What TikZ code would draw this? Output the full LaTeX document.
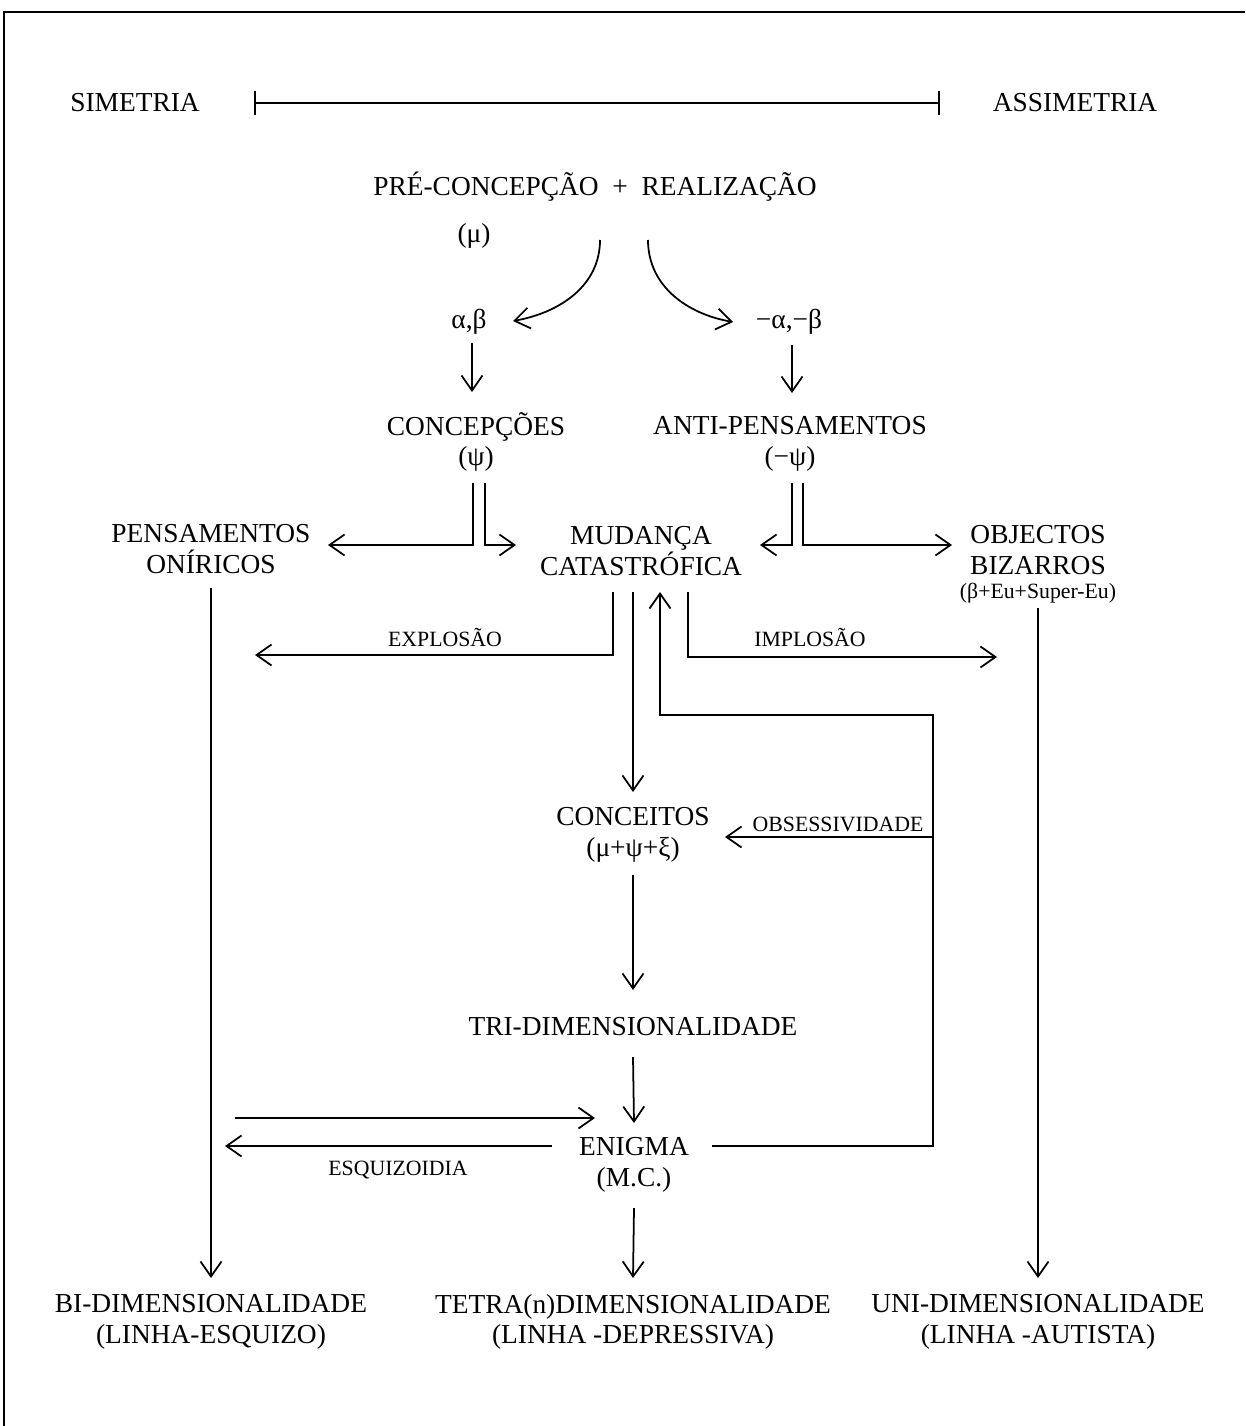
\documentclass[tikz,border=0pt]{standalone}
\usepackage{fontspec}
\setmainfont{Liberation Serif}
\usepackage{tikz}
\usetikzlibrary{arrows.meta}
\usetikzlibrary{calc}

\tikzset{
  texto/.style={font=\fontsize{15.6}{17.4}\selectfont, align=center, inner sep=1pt},
  rotulo/.style={font=\fontsize{12.4}{14}\selectfont, inner sep=1pt},
  seta/.style={-{Straight Barb[length=3mm,width=4.2mm]}},
}

\begin{document}
\begin{tikzpicture}[x=0.02cm, y=-0.02cm, line width=1pt]
        \useasboundingbox (0,0) rectangle (1245,1426);
        \draw[line width=1.4pt] (4,1426) -- (4,12) -- (1245,12);

        % escala
        \node[texto] (sim) at (135,103) {SIMETRIA};
        \node[texto] (assim) at (1075,103) {ASSIMETRIA};
        \draw[{Bar[width=5mm]}-{Bar[width=5mm]}] ($(sim)+(119,0)$) --
        ($(assim)+(-135,0)$);

        \node[texto] (pre) at (595,187) {PRÉ-CONCEPÇÃO\enspace+\enspace REALIZAÇÃO};
        \node[texto] (mu) at (474,236) {(μ)};

        \node[texto] (ab) at (469,322) {α,β};
        \node[texto] (nab) at (789,322) {−α,−β};
        \draw[seta] ($(pre)+(5,53)$) to[out=-90,in=10] ($(ab)+(44,-1)$);
        \draw[seta] ($(pre)+(53,53)$) to[out=-90,in=170] ($(nab)+(-56,0)$);

        \node[texto] (conc) at (476,442) {CONCEPÇÕES\\(ψ)};
        \node[texto] (anti) at (790,444) {ANTI-PENSAMENTOS\\(−ψ)};
        \draw[seta] ($(ab)+(3,21)$) -- ($(conc)+(-4,-50)$);
        \draw[seta] ($(nab)+(3,23)$) -- ($(anti)+(2,-51)$);

        \node[texto] (pens) at (211,549) {PENSAMENTOS\\ONÍRICOS};
        \node[texto] (mud) at (641,551) {MUDANÇA\\CATASTRÓFICA};
        \node[texto] (obj) at (1038,550) {OBJECTOS\\BIZARROS};
        \node[rotulo] (objsub) at (1038,593) {(β+Eu+Super-Eu)};

        \draw[seta] ($(conc)+(-3,41)$) |- ($(pens)+(117,-4)$);
        \draw[seta] ($(conc)+(9,41)$) |- ($(mud)+(-125,-6)$);
        \draw[seta] ($(anti)+(2,39)$) |- ($(mud)+(119,-6)$);
        \draw[seta] ($(anti)+(13,39)$) |- ($(obj)+(-86,-5)$);

        % explosao / implosao
        \node[rotulo] (explo) at (445,637) {EXPLOSÃO};
        \node[rotulo] (implo) at (810,637) {IMPLOSÃO};
        \draw[seta] ($(mud)+(-28,41)$) |- ($(pens)+(44,106)$);
        \draw[seta] ($(mud)+(47,41)$) |- ($(obj)+(-41,107)$);

        \node[texto] (conce) at (633,835) {CONCEITOS\\(μ+ψ+ξ)};
        \draw[seta] ($(mud)+(-8,41)$) -- ($(conce)+(0,-43)$);

        \node[texto] (tri) at (633,1027) {TRI-DIMENSIONALIDADE};
        \node[texto] (enig) at (634,1165) {ENIGMA\\(M.C.)};
        \draw[seta] ($(conce)+(0,40)$) -- ($(tri)+(0,-37)$);
        \draw[seta] ($(tri)+(0,30)$) -- ($(enig)+(0,-42)$);

        % retorno para a mudanca catastrofica
        \coordinate (volta) at (933,715);
        \draw[seta] ($(enig)+(78,-19)$) -| (volta) -| ($(mud)+(19,41)$);
        \node[rotulo] (obses) at (838,824) {OBSESSIVIDADE};
        \draw[seta] ($(volta)+(0,122)$) -- ($(conce)+(92,2)$);

        \node[texto] (bi) at (211,1322) {BI-DIMENSIONALIDADE\\(LINHA-ESQUIZO)};
        \node[texto] (tetra) at (633,1322) {TETRA(n)DIMENSIONALIDADE\\(LINHA -DEPRESSIVA)};
        \node[texto] (uni) at (1038,1322) {UNI-DIMENSIONALIDADE\\(LINHA -AUTISTA)};

        \draw[seta] ($(pens)+(0,39)$) -- ($(bi)+(0,-44)$);
        \draw[seta] ($(objsub)+(0,15)$) -- ($(uni)+(0,-44)$);
        \draw[seta] ($(enig)+(0,43)$) -- ($(tetra)+(0,-44)$);

        % esquizoidia
        \node[rotulo] (esq) at (398,1170) {ESQUIZOIDIA};
        \draw[seta] ($(pens)+(24,569)$) -- ($(enig)+(-39,-47)$);
        \draw[seta] ($(enig)+(-82,-19)$) -- ($(bi)+(14,-176)$);
\end{tikzpicture}
\end{document}
